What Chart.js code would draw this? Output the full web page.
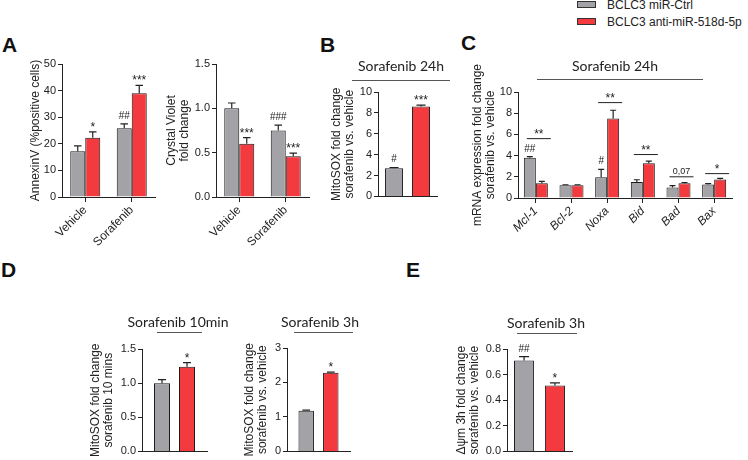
<!DOCTYPE html>
<html>
<head>
<meta charset="utf-8">
<script src="https://cdn.jsdelivr.net/npm/chart.js@4.4.1/dist/chart.umd.min.js"></script>
<style>
  body { margin:0; background:#fff; width:748px; height:460px; overflow:hidden; position:relative; font-family:"Liberation Sans", Arial, sans-serif; }
  canvas { position:absolute; }
  .letter { position:absolute; font-weight:bold; font-size:21px; line-height:21px; color:#111; }
  .leg { position:absolute; left:577px; font-size:12px; line-height:12px; color:#222; white-space:nowrap; }
  .leg .box { display:inline-block; width:17px; height:5px; border:1px solid #333; margin-right:11px; vertical-align:middle; position:relative; top:-1px; }
</style>
</head>
<body>
<div class="letter" style="left:2px;top:34px">A</div>
<div class="letter" style="left:320px;top:34px">B</div>
<div class="letter" style="left:461px;top:32px">C</div>
<div class="letter" style="left:1px;top:259px">D</div>
<div class="letter" style="left:406px;top:259px">E</div>
<script>
const seriesNames = ['BCLC3 miR-Ctrl', 'BCLC3 anti-miR-518d-5p'];
const seriesColors = ['#a3a3a7', '#f33b3f'];

// A - AnnexinV
const treatments = ['Vehicle', 'Sorafenib'];
const annexinCtrl = [17.2, 25.8];
const annexinCtrlSem = [2.0, 1.7];
const annexinAnti = [22.3, 39.0];
const annexinAntiSem = [2.2, 3.0];
const annexinTicks = ['0', '10', '20', '30', '40', '50'];
const annexinMarks = [[1, 0, '*'], [0, 1, '##'], [1, 1, '***']];

// A - Crystal violet
const crystalCtrl = [1.0, 0.75];
const crystalCtrlSem = [0.06, 0.06];
const crystalAnti = [0.60, 0.46];
const crystalAntiSem = [0.07, 0.035];
const crystalTicks = ['0.0', '0.5', '1.0', '1.5'];
const crystalMarks = [[1, 0, '***'], [0, 1, '###'], [1, 1, '***']];

// B - MitoSOX 24h
const mitosox24Ctrl = [2.7];
const mitosox24CtrlSem = [0.07];
const mitosox24Anti = [8.6];
const mitosox24AntiSem = [0.15];
const mitosox24Ticks = ['0', '2', '4', '6', '8', '10'];
const mitosox24Marks = [[0, 0, '#'], [1, 0, '***']];

// C - mRNA
const genes = ['Mcl-1', 'Bcl-2', 'Noxa', 'Bid', 'Bad', 'Bax'];
const mrnaCtrl = [3.8, 1.2, 1.95, 1.52, 0.98, 1.28];
const mrnaCtrlSem = [0.1, 0.05, 0.75, 0.2, 0.18, 0.08];
const mrnaAnti = [1.38, 1.2, 7.5, 3.28, 1.38, 1.74];
const mrnaAntiSem = [0.18, 0.05, 0.78, 0.2, 0.08, 0.12];
const mrnaTicks = ['0', '2', '4', '6', '8', '10'];
const mrnaMarks = [[0, 0, '##'], [0, 2, '#']];
const mrnaBrackets = [[0, 5.6, '**'], [2, 9.0, '**'], [3, 4.1, '**'], [4, 2.0, '0,07'], [5, 2.3, '*']];

// D - MitoSOX 10 min / 3h
const mitosox10Ctrl = [1.0];
const mitosox10CtrlSem = [0.05];
const mitosox10Anti = [1.24];
const mitosox10AntiSem = [0.06];
const mitosox10Ticks = ['0.0', '0.5', '1.0', '1.5'];
const mitosox10Marks = [[1, 0, '*']];

const mitosox3Ctrl = [1.18];
const mitosox3CtrlSem = [0.02];
const mitosox3Anti = [2.28];
const mitosox3AntiSem = [0.02];
const mitosox3Ticks = ['0', '1', '2', '3'];
const mitosox3Marks = [[1, 0, '*']];

// E - delta psi m
const dpsiCtrl = [0.71];
const dpsiCtrlSem = [0.03];
const dpsiAnti = [0.515];
const dpsiAntiSem = [0.02];
const dpsiTicks = ['0.0', '0.2', '0.4', '0.6', '0.8'];
const dpsiMarks = [[0, 0, '##'], [1, 0, '*']];

const FONT = '"Liberation Sans", Arial, sans-serif';
const INK = '#222';

// legend
seriesNames.forEach(function (name, i) {
  let d = document.createElement('div');
  d.className = 'leg';
  d.style.top = (i === 0 ? -1 : 16) + 'px';
  d.innerHTML = '<span class="box" style="background:' + seriesColors[i] + '"></span>' + name;
  document.body.appendChild(d);
});

function markFont(txt) {
  return (txt.charAt(0) === '*' ? '12px ' : '10px ') + FONT;
}

// error bars, star marks, brackets and the panel header
const decor = {
  id: 'decor',
  afterDatasetsDraw(chart) {
    const cfg = chart.options.plugins.decor;
    const ctx = chart.ctx;
    const y = chart.scales.y;
    ctx.save();
    ctx.strokeStyle = INK;
    ctx.fillStyle = INK;
    ctx.lineWidth = 1.2;
    const errTop = [];
    chart.data.datasets.forEach(function (ds, s) {
      errTop[s] = [];
      chart.getDatasetMeta(s).data.forEach(function (bar, i) {
        const v = ds.data[i];
        if (v == null) return;
        const t = y.getPixelForValue(v + ds.sem[i]);
        errTop[s][i] = t;
        const w = bar.width * 0.25;
        ctx.beginPath();
        ctx.moveTo(bar.x, bar.y);
        ctx.lineTo(bar.x, t);
        ctx.moveTo(bar.x - w, t);
        ctx.lineTo(bar.x + w, t);
        ctx.stroke();
      });
    });
    ctx.textAlign = 'center';
    ctx.textBaseline = 'alphabetic';
    (cfg.marks || []).forEach(function (m) {
      const bar = chart.getDatasetMeta(m[0]).data[m[1]];
      const star = m[2].charAt(0) === '*';
      ctx.font = markFont(m[2]);
      ctx.fillText(m[2], bar.x, errTop[m[0]][m[1]] - (star ? 1 : 5));
    });
    ctx.lineWidth = 1;
    (cfg.brackets || []).forEach(function (b) {
      const g = chart.getDatasetMeta(0).data[b[0]];
      const r = chart.getDatasetMeta(1).data[b[0]];
      const ly = y.getPixelForValue(b[1]);
      ctx.beginPath();
      ctx.moveTo(g.x - g.width * 0.25, ly);
      ctx.lineTo(r.x + r.width * 0.75, ly);
      ctx.stroke();
      ctx.font = b[2].charAt(0) === '*' ? '12px ' + FONT : '9px ' + FONT;
      ctx.fillText(b[2], (g.x + r.x) / 2 + 3, ly - (b[2].charAt(0) === '*' ? 1 : 3));
    });
    const h = cfg.header;
    if (h) {
      const ox = cfg.originX, oy = cfg.originY;
      ctx.font = '14px Lato, "Open Sans", sans-serif';
      ctx.fillStyle = '#222';
      ctx.fillText(h.text, h.cx - ox, h.y - oy);
      ctx.strokeStyle = '#555';
      ctx.lineWidth = 1;
      ctx.beginPath();
      ctx.moveTo(h.x0 - ox, h.ly - oy + 0.5);
      ctx.lineTo(h.x1 - ox, h.ly - oy + 0.5);
      ctx.stroke();
    }
    ctx.restore();
  }
};

function panel(p) {
  const left = p.plot[0] - p.yW;
  const width = p.right - left;
  const height = p.bottom - p.top;
  const cv = document.createElement('canvas');
  cv.width = width; cv.height = height;
  cv.style.left = left + 'px'; cv.style.top = p.top + 'px';
  cv.style.width = width + 'px'; cv.style.height = height + 'px';
  document.body.appendChild(cv);
  const tickVals = p.ticks.map(Number);
  const showX = p.labels.length > 1;
  new Chart(cv, {
    type: 'bar',
    data: {
      labels: p.labels,
      datasets: [
        { label: seriesNames[0], data: p.ctrl, sem: p.ctrlSem, backgroundColor: seriesColors[0] },
        { label: seriesNames[1], data: p.anti, sem: p.antiSem, backgroundColor: seriesColors[1] }
      ]
    },
    options: {
      responsive: false,
      animation: false,
      layout: { padding: { top: p.plot[1] - p.top, right: p.right - p.plot[2], left: 0, bottom: 0 } },
      datasets: { bar: { categoryPercentage: p.cat, barPercentage: p.bar, borderWidth: 1, borderColor: '#1a1a1a' } },
      plugins: {
        legend: { display: false },
        tooltip: { enabled: false },
        decor: { marks: p.marks, brackets: p.brackets, header: p.header, originX: left, originY: p.top }
      },
      scales: {
        x: {
          offset: true,
          border: { color: INK, width: 1 },
          grid: { display: showX, offset: false, drawOnChartArea: false, drawTicks: showX, tickLength: 5, color: INK },
          ticks: { display: showX, maxRotation: 45, minRotation: 45, padding: 1, color: INK,
                   font: { size: 12, family: FONT, style: p.italic ? 'italic' : 'normal' } },
          afterFit: function (s) { s.height = p.bottom - p.plot[3]; }
        },
        y: {
          min: 0,
          max: tickVals[tickVals.length - 1],
          border: { color: INK, width: 1 },
          grid: { drawOnChartArea: false, tickLength: 4, color: INK },
          afterBuildTicks: function (s) { s.ticks = tickVals.map(function (v) { return { value: v }; }); },
          ticks: { padding: 2, color: INK, font: { size: 11, family: FONT },
                   callback: function (v) { return p.ticks[tickVals.indexOf(v)]; } },
          title: { display: true, text: p.title, color: INK, padding: { top: 4, bottom: 0 },
                   font: { size: 12, family: FONT, lineHeight: 1.1 } },
          afterFit: function (s) { s.width = p.yW; }
        }
      }
    },
    plugins: [decor]
  });
}

panel({ plot: [62, 64, 155, 197], yW: 37, top: 50, right: 160, bottom: 258,
  labels: treatments, ctrl: annexinCtrl, ctrlSem: annexinCtrlSem, anti: annexinAnti, antiSem: annexinAntiSem,
  ticks: annexinTicks, marks: annexinMarks, cat: 0.645, bar: 1,
  title: 'AnnexinV (%positive cells)' });

panel({ plot: [216, 64, 309, 197], yW: 55, top: 50, right: 314, bottom: 258,
  labels: treatments, ctrl: crystalCtrl, ctrlSem: crystalCtrlSem, anti: crystalAnti, antiSem: crystalAntiSem,
  ticks: crystalTicks, marks: crystalMarks, cat: 0.645, bar: 1,
  title: ['Crystal Violet', 'fold change'] });

panel({ plot: [378, 92, 437, 197], yW: 52, top: 50, right: 456, bottom: 205,
  labels: [''], ctrl: mitosox24Ctrl, ctrlSem: mitosox24CtrlSem, anti: mitosox24Anti, antiSem: mitosox24AntiSem,
  ticks: mitosox24Ticks, marks: mitosox24Marks, cat: 0.915, bar: 0.67,
  title: ['MitoSOX fold change', 'sorafenib vs. vehicle'],
  header: { text: 'Sorafenib 24h', cx: 401, y: 71, x0: 352, x1: 450, ly: 80 } });

panel({ plot: [518, 92, 732, 198], yW: 51, top: 50, right: 740, bottom: 240,
  labels: genes, ctrl: mrnaCtrl, ctrlSem: mrnaCtrlSem, anti: mrnaAnti, antiSem: mrnaAntiSem,
  ticks: mrnaTicks, marks: mrnaMarks, brackets: mrnaBrackets, cat: 0.673, bar: 1, italic: true,
  title: ['mRNA expression fold change', 'sorafenib vs. vehicle'],
  header: { text: 'Sorafenib 24h', cx: 615, y: 71, x0: 537, x1: 703, ly: 79 } });

panel({ plot: [142, 349, 207, 454], yW: 57, top: 305, right: 235, bottom: 460,
  labels: [''], ctrl: mitosox10Ctrl, ctrlSem: mitosox10CtrlSem, anti: mitosox10Anti, antiSem: mitosox10AntiSem,
  ticks: mitosox10Ticks, marks: mitosox10Marks, cat: 0.77, bar: 0.64,
  title: ['MitoSOX fold change', 'sorafenib 10 mins'],
  header: { text: 'Sorafenib 10min', cx: 178, y: 327, x0: 157, x1: 202, ly: 332 } });

panel({ plot: [287, 348, 350, 454], yW: 48, top: 305, right: 360, bottom: 460,
  labels: [''], ctrl: mitosox3Ctrl, ctrlSem: mitosox3CtrlSem, anti: mitosox3Anti, antiSem: mitosox3AntiSem,
  ticks: mitosox3Ticks, marks: mitosox3Marks, cat: 0.78, bar: 0.63,
  title: ['MitoSOX fold change', 'sorafenib vs. vehicle'],
  header: { text: 'Sorafenib 3h', cx: 320, y: 327, x0: 294, x1: 353, ly: 332 } });

panel({ plot: [507, 349, 572, 454], yW: 56, top: 305, right: 590, bottom: 460,
  labels: [''], ctrl: dpsiCtrl, ctrlSem: dpsiCtrlSem, anti: dpsiAnti, antiSem: dpsiAntiSem,
  ticks: dpsiTicks, marks: dpsiMarks, cat: 0.95, bar: 0.65,
  title: ['\u0394\u03c8m 3h fold change', 'sorafenib vs. vehicle'],
  header: { text: 'Sorafenib 3h', cx: 546, y: 328, x0: 517, x1: 577, ly: 333 } });
</script>
</body>
</html>
